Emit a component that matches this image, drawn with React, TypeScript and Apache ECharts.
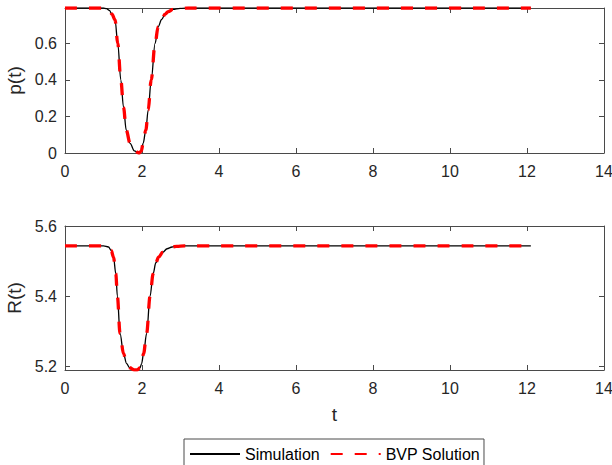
import React, { useEffect, useRef } from "react";
import * as echarts from "echarts";

// Time samples and state values for p(t)
const tP = [0, 1.0, 1.08, 1.15, 1.22, 1.3, 1.37, 1.45, 1.52, 1.59, 1.69, 1.8, 1.92, 1.98, 2.03, 2.1, 2.16, 2.24, 2.34, 2.42, 2.51, 2.6, 2.68, 2.8, 2.99, 3.2, 12.1];
const pSim = [0.793, 0.793, 0.79, 0.78, 0.76, 0.728, 0.6, 0.4, 0.25, 0.126, 0.053, 0.012, 0.0, 0.01, 0.053, 0.126, 0.235, 0.4, 0.6, 0.69, 0.73, 0.76, 0.773, 0.785, 0.791, 0.793, 0.793];
const pBvp = [0.793, 0.793, 0.79, 0.78, 0.76, 0.728, 0.6, 0.4, 0.25, 0.126, 0.053, 0.012, 0.0, 0.01, 0.053, 0.126, 0.235, 0.4, 0.6, 0.69, 0.73, 0.76, 0.773, 0.785, 0.791, 0.793, 0.793];

// Time samples and state values for R(t)
const tR = [0, 1.0, 1.13, 1.2, 1.26, 1.32, 1.36, 1.43, 1.52, 1.6, 1.68, 1.8, 1.88, 1.95, 1.99, 2.04, 2.12, 2.21, 2.29, 2.36, 2.43, 2.54, 2.65, 2.78, 2.9, 3.1, 12.1];
const rSim = [5.543, 5.543, 5.54, 5.53, 5.511, 5.464, 5.4, 5.293, 5.235, 5.207, 5.195, 5.189, 5.189, 5.195, 5.207, 5.235, 5.293, 5.4, 5.464, 5.495, 5.511, 5.525, 5.535, 5.54, 5.542, 5.543, 5.543];
const rBvp = [5.543, 5.543, 5.54, 5.53, 5.511, 5.464, 5.4, 5.293, 5.235, 5.207, 5.195, 5.189, 5.189, 5.195, 5.207, 5.235, 5.293, 5.4, 5.464, 5.495, 5.511, 5.525, 5.535, 5.54, 5.542, 5.543, 5.543];

const pTicks = [0, 0.2, 0.4, 0.6];
const rTicks = [5.2, 5.4, 5.6];
const seriesNames = ["Simulation", "BVP Solution"];

const FONT = "Liberation Sans, Arial, sans-serif";
const AX = "#262626";
const BOX = "#4a4a4a";

const zip = (xs: number[], ys: number[]) => xs.map((x, i) => [x, ys[i]]);

function xAxisFor(gridIndex: number, top: boolean, name?: string) {
  return {
    type: "value",
    gridIndex,
    position: top ? "top" : "bottom",
    min: 0,
    max: 14,
    interval: 2,
    name: name,
    nameLocation: "middle",
    nameGap: 35,
    nameTextStyle: { color: AX, fontSize: 19, fontFamily: FONT },
    axisLine: { show: true, onZero: false, lineStyle: { color: BOX, width: 1 } },
    axisTick: { show: true, inside: true, length: 5, lineStyle: { color: BOX } },
    axisLabel: { show: !top, color: AX, fontSize: 16, fontFamily: FONT, margin: 10 },
    splitLine: { show: false },
  };
}

function yAxisFor(gridIndex: number, right: boolean, min: number, max: number, ticks: number[], name?: string) {
  return {
    type: "value",
    gridIndex,
    position: right ? "right" : "left",
    min,
    max,
    name: name,
    nameLocation: "middle",
    nameGap: 36,
    nameTextStyle: { color: AX, fontSize: 19, fontFamily: FONT },
    axisLine: { show: true, onZero: false, lineStyle: { color: BOX, width: 1 } },
    axisTick: { show: true, inside: true, length: 5, customValues: ticks, lineStyle: { color: BOX } },
    axisLabel: { show: !right, color: AX, fontSize: 16, fontFamily: FONT, margin: 8, customValues: ticks },
    splitLine: { show: false },
  };
}

function simSeries(xi: number, data: number[][]) {
  return {
    name: seriesNames[0],
    type: "line",
    xAxisIndex: xi,
    yAxisIndex: xi,
    data,
    showSymbol: false,
    symbol: "none",
    smooth: 0.35,
    smoothMonotone: "x",
    lineStyle: { color: "#000000", width: 1.3 },
    itemStyle: { color: "#000000" },
    z: 2,
  };
}

function bvpSeries(xi: number, data: number[][]) {
  return {
    name: seriesNames[1],
    type: "line",
    xAxisIndex: xi,
    yAxisIndex: xi,
    data,
    showSymbol: false,
    symbol: "none",
    smooth: 0.35,
    smoothMonotone: "x",
    lineStyle: { color: "#ff0000", width: 3.3, type: [12, 12] },
    itemStyle: { color: "#ff0000" },
    z: 3,
  };
}

export default function App() {
  const ref = useRef<HTMLDivElement>(null);

  useEffect(() => {
    if (!ref.current) return;
    const chart = echarts.init(ref.current, undefined, { renderer: "svg" });
    chart.setOption({
      animation: false,
      backgroundColor: "#ffffff",
      grid: [
        { left: 65, right: 8, top: 8, height: 145, outerBoundsMode: "none", containLabel: false },
        { left: 65, right: 8, top: 226, height: 144, outerBoundsMode: "none", containLabel: false },
      ],
      xAxis: [
        xAxisFor(0, false),
        xAxisFor(1, false, "t"),
        xAxisFor(0, true),
        xAxisFor(1, true),
      ],
      yAxis: [
        yAxisFor(0, false, 0, 0.793, pTicks, "p(t)"),
        yAxisFor(1, false, 5.1886, 5.6, rTicks, "R(t)"),
        yAxisFor(0, true, 0, 0.793, pTicks),
        yAxisFor(1, true, 5.1886, 5.6, rTicks),
      ],
      legend: {
        data: seriesNames,
        left: 184,
        top: 439,
        orient: "horizontal",
        itemWidth: 50,
        itemHeight: 14,
        itemGap: 10,
        padding: [7, 4, 20, 5],
        borderColor: BOX,
        borderWidth: 1,
        backgroundColor: "#ffffff",
        itemStyle: { opacity: 0 },
        textStyle: { color: "#000000", fontSize: 16, fontFamily: FONT },
      },
      series: [
        simSeries(0, zip(tP, pSim)),
        bvpSeries(0, zip(tP, pBvp)),
        simSeries(1, zip(tR, rSim)),
        bvpSeries(1, zip(tR, rBvp)),
      ],
    });
    return () => chart.dispose();
  }, []);

  return (
    <div
      ref={ref}
      style={{ position: "fixed", left: 0, top: 0, width: 612, height: 465, background: "#fff" }}
    />
  );
}
